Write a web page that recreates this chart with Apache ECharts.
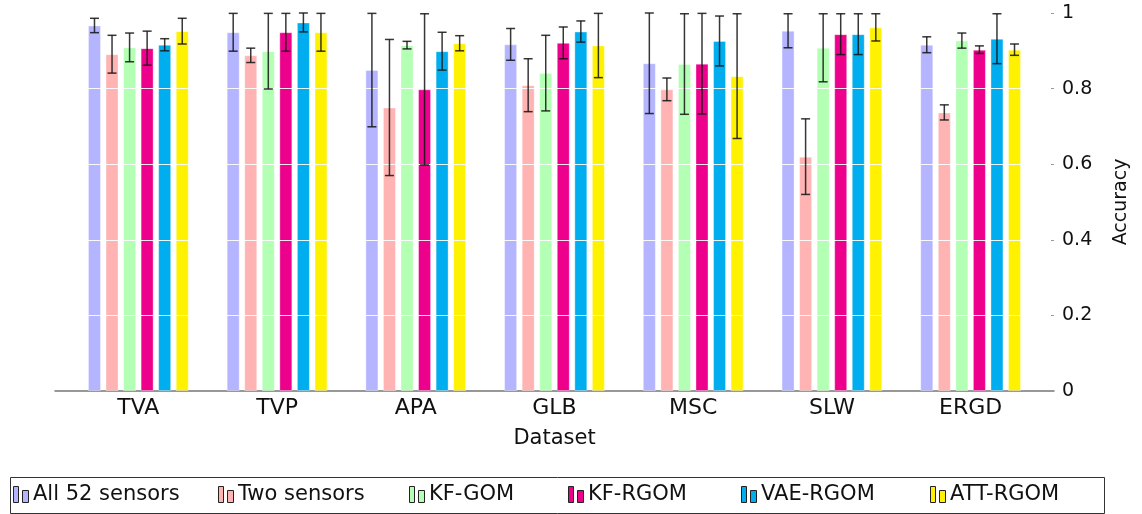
<!DOCTYPE html>
<html>
<head>
<meta charset="utf-8">
<script src="https://cdn.jsdelivr.net/npm/echarts@6/dist/echarts.min.js"></script>
<style>
html,body{margin:0;padding:0;background:#fff;}
#chart{width:1142px;height:514px;}
</style>
</head>
<body>
<div id="chart"></div>
<script>
const categories = ['TVA', 'TVP', 'APA', 'GLB', 'MSC', 'SLW', 'ERGD'];
const seriesNames = ['All 52 sensors', 'Two sensors', 'KF-GOM', 'KF-RGOM', 'VAE-RGOM', 'ATT-RGOM'];
const yTicks = [0, 0.2, 0.4, 0.6, 0.8, 1];

const allSensors    = [0.967, 0.949, 0.849, 0.917, 0.867, 0.953, 0.916];
const allSensorsErr = [0.019, 0.050, 0.150, 0.042, 0.133, 0.045, 0.021];
const twoSensors    = [0.891, 0.888, 0.750, 0.809, 0.798, 0.620, 0.737];
const twoSensorsErr = [0.050, 0.019, 0.180, 0.070, 0.030, 0.100, 0.020];
const kfGom         = [0.909, 0.899, 0.915, 0.841, 0.865, 0.908, 0.927];
const kfGomErr      = [0.038, 0.100, 0.010, 0.100, 0.133, 0.090, 0.020];
const kfRgom        = [0.907, 0.949, 0.798, 0.921, 0.866, 0.944, 0.903];
const kfRgomErr     = [0.045, 0.050, 0.200, 0.042, 0.133, 0.054, 0.010];
const vaeRgom       = [0.916, 0.975, 0.899, 0.951, 0.926, 0.944, 0.932];
const vaeRgomErr    = [0.016, 0.025, 0.050, 0.028, 0.066, 0.054, 0.066];
const attRgom       = [0.952, 0.949, 0.920, 0.914, 0.833, 0.962, 0.903];
const attRgomErr    = [0.034, 0.050, 0.020, 0.085, 0.165, 0.036, 0.015];

const values = [allSensors, twoSensors, kfGom, kfRgom, vaeRgom, attRgom];
const errors = [allSensorsErr, twoSensorsErr, kfGomErr, kfRgomErr, vaeRgomErr, attRgomErr];
const colors = ['#b4b4ff', '#ffb3b3', '#b3ffb3', '#ec008c', '#00aeef', '#fff200'];

const FONT = 'DejaVu Sans';
const BAR_W = 13;
const BAR_GAP = 0.35;
const STEP = BAR_W * (1 + BAR_GAP);
const CAP = 4.5;
const legendLeft = [13, 218, 409, 568, 741, 930];

const chart = echarts.init(document.getElementById('chart'), null, {renderer: 'canvas'});

const series = [];
values.forEach((vals, i) => {
  series.push({
    name: seriesNames[i],
    type: 'bar',
    xAxisIndex: 1,
    yAxisIndex: 1,
    barWidth: BAR_W,
    barGap: (BAR_GAP * 100) + '%',
    itemStyle: {color: colors[i], borderColor: 'rgba(255,255,255,0.35)', borderWidth: 1},
    emphasis: {disabled: true},
    z: 2,
    data: vals
  });
});
values.forEach((vals, i) => {
  const offset = (i - (values.length - 1) / 2) * STEP;
  series.push({
    name: seriesNames[i] + ' err',
    type: 'custom',
    xAxisIndex: 1,
    yAxisIndex: 1,
    z: 10,
    clip: false,
    silent: true,
    encode: {x: 0, y: [1, 2]},
    data: vals.map((v, k) => [k, v - errors[i][k], v + errors[i][k]]),
    renderItem: function (params, api) {
      const c = api.value(0);
      const lo = api.coord([c, api.value(1)]);
      const hi = api.coord([c, api.value(2)]);
      const x = lo[0] + offset;
      const st = {stroke: 'rgba(20,20,20,0.85)', lineWidth: 1.5};
      return {
        type: 'group',
        children: [
          {type: 'line', shape: {x1: x, y1: lo[1], x2: x, y2: hi[1]}, style: st},
          {type: 'line', shape: {x1: x - CAP, y1: lo[1], x2: x + CAP, y2: lo[1]}, style: st},
          {type: 'line', shape: {x1: x - CAP, y1: hi[1], x2: x + CAP, y2: hi[1]}, style: st}
        ]
      };
    }
  });
});

const legends = seriesNames.map((name, i) => ({
  data: [name],
  left: legendLeft[i], top: 484,
  padding: 0,
  itemGap: 0,
  itemWidth: 16, itemHeight: 16,
  icon: 'path://M0,0h5v16h-5z M9,4h6v12h-6z',
  itemStyle: {borderColor: '#222', borderWidth: 1},
  textStyle: {fontFamily: FONT, fontSize: 21, color: '#111', padding: [0, 0, 0, -1]}
}));

const option = {
  backgroundColor: '#ffffff',
  animation: false,
  textStyle: {fontFamily: FONT},
  grid: [
    {left: 55, right: 88, top: 13, bottom: 123, containLabel: false},
    {left: 69, right: 102, top: 13, bottom: 123, containLabel: false}
  ],
  graphic: [{
    type: 'rect', left: 8, top: 475, silent: true,
    shape: {width: 1094, height: 36},
    style: {fill: 'none', stroke: '#333', lineWidth: 1}
  }],
  xAxis: [
    {
      gridIndex: 0, type: 'value', min: 0, max: 1,
      axisLine: {show: true, onZero: false, lineStyle: {color: '#777', width: 1.5}},
      axisTick: {show: false}, axisLabel: {show: false}, splitLine: {show: false},
      name: 'Dataset', nameLocation: 'middle', nameGap: 37,
      nameTextStyle: {fontFamily: FONT, fontSize: 21, color: '#111'}
    },
    {
      gridIndex: 1, type: 'category', data: categories,
      axisLine: {show: false}, axisTick: {show: false},
      axisLabel: {fontFamily: FONT, fontSize: 22, color: '#111', margin: 6}
    }
  ],
  yAxis: [
    {
      gridIndex: 0, type: 'value', position: 'right', min: 0, max: 1, interval: 0.2,
      axisLine: {show: false, onZero: false},
      axisTick: {show: true, inside: true, length: 3, lineStyle: {color: '#999'}},
      axisLabel: {fontFamily: FONT, fontSize: 19, color: '#111', margin: 8,
        formatter: v => { const t = yTicks.find(x => Math.abs(x - v) < 1e-9); return t === undefined ? '' : String(t); }},
      splitLine: {show: false},
      name: 'Accuracy', nameLocation: 'middle', nameGap: 58,
      nameTextStyle: {fontFamily: FONT, fontSize: 19, color: '#111'}
    },
    {
      gridIndex: 1, type: 'value', min: 0, max: 1, interval: 0.2, z: 5,
      axisLine: {show: false, onZero: false}, axisTick: {show: false}, axisLabel: {show: false},
      splitLine: {show: true, showMinLine: false, showMaxLine: false,
        lineStyle: {color: 'rgba(255,255,255,0.9)', width: 1.2}}
    }
  ],
  legend: legends,
  series: series
};
chart.setOption(option);
</script>
</body>
</html>
